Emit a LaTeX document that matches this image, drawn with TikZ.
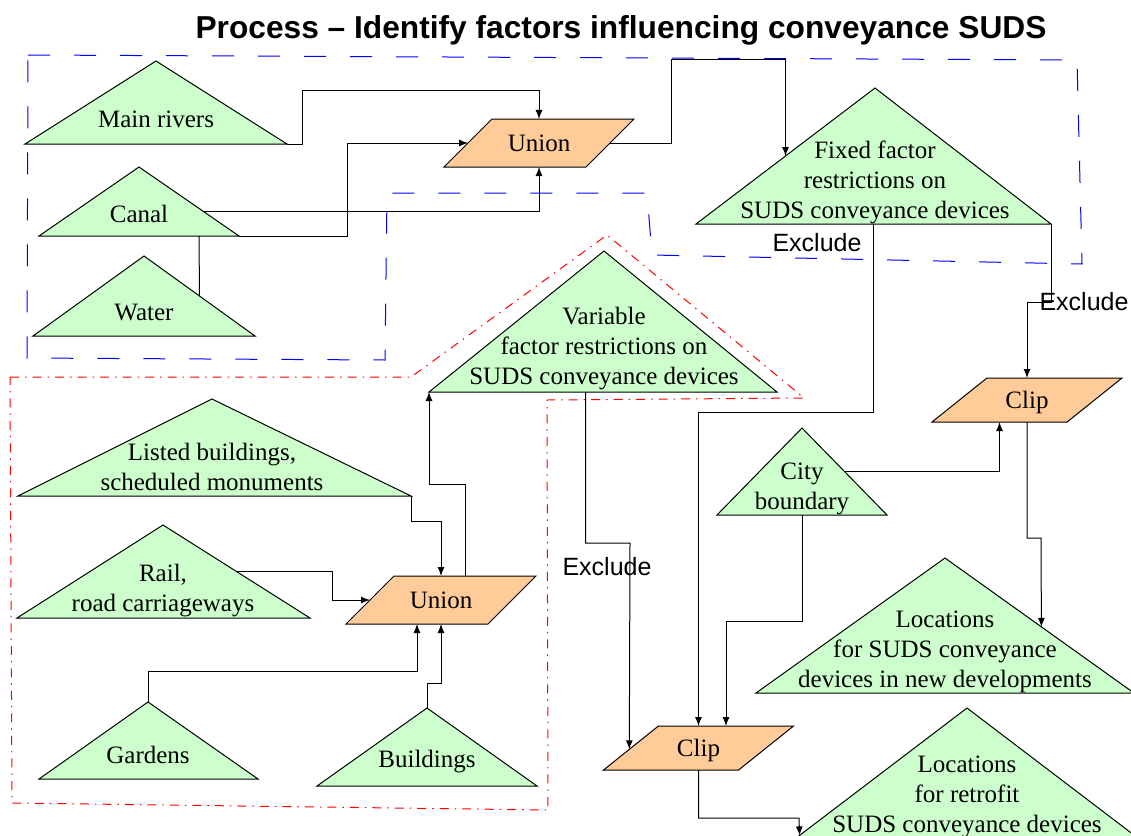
\documentclass[tikz,border=0pt]{standalone}
\usepackage{fontspec}
\setmainfont{Liberation Serif}
\newfontfamily\labelfont{Liberation Sans}
\usetikzlibrary{shapes.geometric,arrows.meta,calc}
\definecolor{trigreen}{HTML}{CCFFCC}
\definecolor{oporange}{HTML}{FFCC99}
\newcommand\trifont{\fontsize{25}{30}\selectfont}

\begin{document}
\begin{tikzpicture}[x=1pt,y=-1pt,>={Latex[length=9pt,width=7pt]},line width=1pt,
    tri/.style={draw=black,fill=trigreen},
    tritext/.style={align=center,font=\trifont,inner sep=0pt},
    unionbox/.style={trapezium,draw=black,fill=oporange,trapezium stretches body=true,
        trapezium left angle=45,trapezium right angle=135,
        text height=20pt,text depth=4pt,inner xsep=0pt,inner ysep=12pt,
        minimum width=190pt,outer sep=0pt,font=\trifont},
    clipbox/.style={unionbox,trapezium left angle=38.7,trapezium right angle=141.3,inner ysep=10pt},
    excl/.style={font=\labelfont\fontsize{25}{30}\selectfont,inner sep=0pt},
    fixzone/.style={draw=blue,line width=1pt,dash pattern=on 22pt off 24pt},
    varzone/.style={draw=red,line width=1pt,dash pattern=on 9pt off 6pt on 1.5pt off 6pt}]
    \clip (0,0) rectangle (1131,835);

    \node[font=\labelfont\bfseries\fontsize{31.7}{38}\selectfont,inner sep=0pt] (title) at (621,30)
        {Process – Identify factors influencing conveyance SUDS};

    % zones
    \draw[fixzone] (28,55) -- (1077,60) -- (1082,264) -- (652,255) -- (647,193) -- (387,193)
        -- (385,360) -- (27,358) -- cycle;
    \draw[varzone] (10,377) -- (411,377) -- (607,235) -- (804,398) -- (547,400) -- (548,810)
        -- (12,803) -- cycle;

    % fixed factors
    \draw[tri] (156,61) coordinate (riv-a) -- (287,144) coordinate (riv-r) -- (25,144) coordinate (riv-l) -- cycle;
    \node[tritext] (riv) at (156,119) {Main rivers};
    \draw[tri] (139,167) coordinate (can-a) -- (239,236) coordinate (can-r) -- (39,236) coordinate (can-l) -- cycle;
    \node[tritext] (can) at (139,214) {Canal};
    \draw[tri] (144,256) coordinate (wat-a) -- (255,336) coordinate (wat-r) -- (33,336) coordinate (wat-l) -- cycle;
    \node[tritext] (wat) at (144,312) {Water};
    \draw[tri] (875,88) coordinate (fix-a) -- (1051,224) coordinate (fix-r) -- (696,224) coordinate (fix-l) -- cycle;
    \node[tritext] (fix) at (875,182) {Fixed factor\\restrictions on\\SUDS conveyance devices};
    \node[unionbox] (uni1) at (539,143) {Union};

    % variable factors
    \draw[tri] (604,251) coordinate (var-a) -- (777,392) coordinate (var-r) -- (429,392) coordinate (var-l) -- cycle;
    \node[tritext] (var) at (604,349) {Variable\\factor restrictions on\\SUDS conveyance devices};
    \draw[tri] (212,399) coordinate (lis-a) -- (411,496) coordinate (lis-r) -- (18,496) coordinate (lis-l) -- cycle;
    \node[tritext] (lis) at (212,467) {Listed buildings,\\scheduled monuments};
    \draw[tri] (163,525) coordinate (rail-a) -- (310,618) coordinate (rail-r) -- (17,618) coordinate (rail-l) -- cycle;
    \node[tritext] (rail) at (163,591) {Rail,\\road carriageways};
    \draw[tri] (148,702) coordinate (gar-a) -- (258,779) coordinate (gar-r) -- (39,779) coordinate (gar-l) -- cycle;
    \node[tritext] (gar) at (148,755) {Gardens};
    \draw[tri] (427,708) coordinate (bld-a) -- (537,786) coordinate (bld-r) -- (317,786) coordinate (bld-l) -- cycle;
    \node[tritext] (bld) at (427,762) {Buildings};
    \node[unionbox] (uni2) at (441,600) {Union};

    % results
    \draw[tri] (802,428) coordinate (city-a) -- (887,515) coordinate (city-r) -- (717,515) coordinate (city-l) -- cycle;
    \node[tritext] (city) at (802,489) {City\\boundary};
    \draw[tri] (945,558) coordinate (loc1-a) -- (1134,693) coordinate (loc1-r) -- (756,693) coordinate (loc1-l) -- cycle;
    \node[tritext] (loc1) at (945,652) {Locations\\for SUDS conveyance\\devices in new developments};
    \draw[tri] (967,708) coordinate (ret-a) -- (1151,848) coordinate (ret-r) -- (783,848) coordinate (ret-l) -- cycle;
    \node[tritext] (ret) at (967,797) {Locations\\for retrofit\\SUDS conveyance devices};
    \node[clipbox] (clip1) at (1027,400) {Clip};
    \node[clipbox] (clip2) at (698.5,748) {Clip};

    % connectors
    \draw[->] (riv-r) -| (302,90) -| (uni1.north);
    \draw[->] (can-r) -| (347,143) -- (uni1.left side);
    \draw[->] ($(can-a)!0.65!(can-r)$) -| (uni1.south);
    \draw ($(can-l)!0.8!(can-r)$) -- ($(wat-a)!0.5!(wat-r)$);
    \draw[->] (uni1.right side) -| (671,59) -| ($(fix-l)!0.5!(fix-a)$);

    \draw[->] (lis-r) -- ++(0,25) -| (uni2.north);
    \draw[->] ($(rail-a)!0.5!(rail-r)$) -| (332,600) -- (uni2.left side);
    \draw[->] (gar-a) -- ++(0,-31) -| (uni2.bottom side);
    \draw[->] (bld-a) -- ++(0,-25) -| (uni2.south);
    \draw[->] (uni2.top side) |- (429,484) -- (var-l);

    \draw[->] (fix-r) -- (1051,302) -| (clip1.north);
    \node[excl] (ex1) at (1084,302) {Exclude};
    \draw[->] ($(fix-l)!0.5!(fix-r)$) -- ++(0,188) -| (clip2.north);
    \node[excl] (ex2) at (817,243) {Exclude};
    \draw[->] ($(var-l)!0.45!(var-r)$) |- (630,543) -- ($(clip2.bottom left corner)!0.47!(clip2.top left corner)$);
    \node[excl] (ex3) at (607,567) {Exclude};
    \draw[->] ($(city-a)!0.5!(city-r)$) -| (clip1.bottom side);
    \draw[->] ($(city-l)!0.5!(city-r)$) -- ++(0,106) -| ([xshift=27.5pt]clip2.north);
    \draw[->] (clip1.south) |- (1041,538) -- ($(loc1-a)!0.51!(loc1-r)$);
    \draw[->] (clip2.south) |- (799,818) -- ($(ret-a)!0.91!(ret-l)$);
\end{tikzpicture}
\end{document}
